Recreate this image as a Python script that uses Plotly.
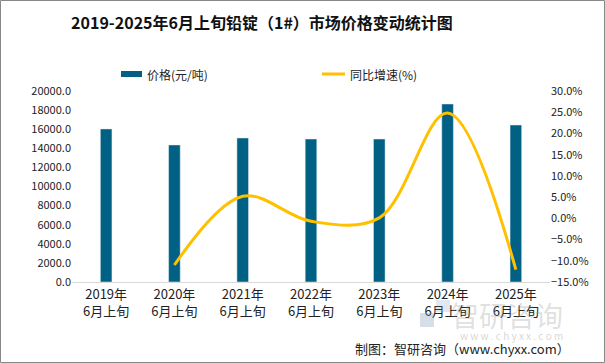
import plotly.graph_objects as go

categories = ["2019年<br>6月上旬", "2020年<br>6月上旬", "2021年<br>6月上旬", "2022年<br>6月上旬",
              "2023年<br>6月上旬", "2024年<br>6月上旬", "2025年<br>6月上旬"]
price = [16030, 14350, 15080, 14970, 14970, 18640, 16440]
growth = [None, -11.0, 5.2, -0.7, 0.1, 24.8, -12.1]
series_names = ["价格(元/吨)", "同比增速(%)"]

W, H = 605, 363
L, R, T, B = 72, 55, 91, 81
pw, ph = W - L - R, H - T - B

FONT = "Noto Sans CJK SC"
BAR_C = "#006185"
LINE_C = "#FFC000"

fig = go.Figure()
fig.add_trace(go.Bar(x=categories, y=price, name=series_names[0], marker_color=BAR_C,
                     width=0.17, yaxis="y"))
fig.add_trace(go.Scatter(x=categories, y=growth, name=series_names[1], mode="lines",
                         line=dict(color=LINE_C, width=3, shape="spline", smoothing=1.0),
                         yaxis="y2", connectgaps=False))

def px(x):
    return (x - L) / pw

def py(y):
    return (H - B - y) / ph

fig.update_layout(
    width=W, height=H,
    margin=dict(l=L, r=R, t=T, b=B, autoexpand=False),
    paper_bgcolor="white", plot_bgcolor="white",
    font=dict(family=FONT, size=12, color="#222222"),
    title=dict(text="<b>2019-2025年6月上旬铅锭（1#）市场价格变动统计图</b>",
               x=262 / W, xanchor="center", y=1 - 23 / H, yanchor="middle",
               font=dict(size=16, color="#111111", family=FONT)),
    showlegend=False,
    bargap=0.8,
    xaxis=dict(showgrid=False, showline=True, linecolor="#d9d9d9", linewidth=1,
               ticks="", tickfont=dict(size=13, family=FONT, color="#222222"), automargin=False),
    yaxis=dict(range=[0, 20000], dtick=2000, tickformat=".1f", showgrid=False,
               showline=False, zeroline=False, tickfont=dict(size=11, color="#222222"),
               automargin=False),
    yaxis2=dict(range=[-15, 30], dtick=5, tickformat=".1f", ticksuffix="%", overlaying="y",
                side="right", showgrid=False, showline=False, zeroline=False,
                tickfont=dict(size=11, color="#222222"), automargin=False),
    shapes=[
        dict(type="rect", xref="paper", yref="paper",
             x0=px(0.5), x1=px(W - 0.5), y0=py(H - 0.5), y1=py(0.5),
             line=dict(color="#888888", width=1), fillcolor="rgba(0,0,0,0)", layer="above"),
        dict(type="rect", xref="paper", yref="paper",
             x0=px(121), x1=px(142), y0=py(77), y1=py(71),
             line=dict(width=0), fillcolor=BAR_C),
        dict(type="line", xref="paper", yref="paper",
             x0=px(322), x1=px(345), y0=py(74), y1=py(74),
             line=dict(color=LINE_C, width=3)),
        # watermark logo
        dict(type="rect", xref="paper", yref="paper",
             x0=px(420), x1=px(434), y0=py(327), y1=py(313),
             line=dict(width=0), fillcolor="rgba(120,150,180,0.30)"),
        dict(type="rect", xref="paper", yref="paper",
             x0=px(436), x1=px(450), y0=py(312), y1=py(300),
             line=dict(width=0), fillcolor="rgba(120,150,180,0.22)"),
    ],
    annotations=[
        dict(text=series_names[0], xref="paper", yref="paper", x=px(145), y=py(74),
             xanchor="left", yanchor="middle", showarrow=False,
             font=dict(size=12, color="#222222", family=FONT)),
        dict(text=series_names[1], xref="paper", yref="paper", x=px(348), y=py(74),
             xanchor="left", yanchor="middle", showarrow=False,
             font=dict(size=12, color="#222222", family=FONT)),
        dict(text="智研咨询", xref="paper", yref="paper", x=px(565), y=py(315),
             xanchor="right", yanchor="middle", showarrow=False,
             font=dict(size=28, color="rgba(150,150,150,0.3)", family=FONT)),
        dict(text="w w w . c h y x x . c o m", xref="paper", yref="paper", x=px(565), y=py(335),
             xanchor="right", yanchor="middle", showarrow=False,
             font=dict(size=10, color="rgba(150,150,150,0.4)", family=FONT)),
        dict(text="制图：智研咨询（www.chyxx.com）", xref="paper", yref="paper", x=px(572), y=py(348),
             xanchor="right", yanchor="middle", showarrow=False,
             font=dict(size=13, color="#222222", family=FONT)),
    ],
)

fig.write_html("out.html", config={"displayModeBar": False},
               post_script="document.body.style.margin='0px';document.body.style.padding='0px';")
